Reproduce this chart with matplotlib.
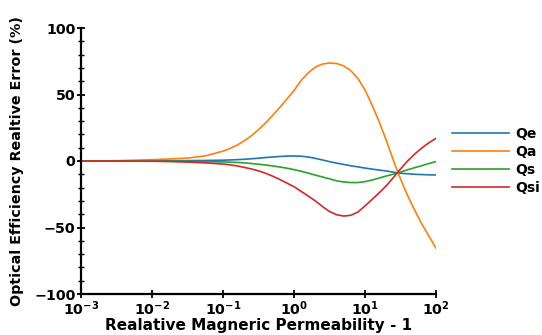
import numpy as np
import matplotlib
matplotlib.use("Agg")
import matplotlib.pyplot as plt
from matplotlib.ticker import FixedLocator, FixedFormatter, MultipleLocator

# Relative permeability minus one, as powers of ten
log_mu = [-3.0, -2.5, -2.0, -1.75, -1.5, -1.25,
          -1.0, -0.9, -0.8, -0.7, -0.6, -0.5, -0.4, -0.3, -0.2, -0.1,
          0.0, 0.1, 0.2, 0.3, 0.4, 0.5, 0.6, 0.7, 0.8, 0.9,
          1.0, 1.1, 1.2, 1.3, 1.4, 1.5, 1.6, 1.7, 1.8, 1.9, 2.0]

# Relative error of each efficiency (%)
qe = [0.0, 0.0, 0.1, 0.2, 0.3, 0.4,
      0.6, 0.8, 1.0, 1.3, 1.7, 2.1, 2.6, 3.0, 3.4, 3.7,
      3.8, 3.6, 3.0, 2.0, 0.8, -0.5, -1.6, -2.6, -3.6, -4.4,
      -5.3, -6.1, -6.8, -7.5, -8.4, -9.2, -9.6, -10.0, -10.2, -10.4, -10.5]
qa = [0.0, 0.2, 1.0, 1.5, 2.2, 3.8,
      7.4, 9.5, 12.0, 15.2, 19.0, 23.5, 28.7, 34.3, 40.3, 46.6,
      53.0, 60.5, 66.3, 70.6, 72.9, 73.7, 73.3, 71.5, 67.9, 62.0,
      53.5, 42.0, 29.5, 15.5, 0.5, -13.5, -26.0, -37.0, -47.3, -56.5, -65.5]
qs = [0.0, 0.0, -0.1, -0.2, -0.3, -0.5,
      -0.7, -0.9, -1.1, -1.4, -1.9, -2.4, -3.0, -3.7, -4.5, -5.4,
      -6.5, -7.7, -9.1, -10.6, -12.0, -13.4, -14.9, -15.8, -16.2, -16.2,
      -15.5, -14.3, -12.8, -11.3, -9.9, -8.3, -6.6, -5.0, -3.5, -1.9, -0.4]
qsi = [0.0, 0.0, -0.2, -0.4, -0.8, -1.4,
       -2.3, -2.9, -3.7, -4.8, -6.0, -7.4, -9.2, -11.4, -13.9, -16.6,
       -19.3, -22.8, -26.3, -30.0, -34.2, -38.0, -40.4, -41.4, -40.8, -38.4,
       -33.8, -28.9, -23.9, -18.6, -12.4, -6.0, 0.0, 5.2, 9.8, 13.7, 17.0]

series_names = ["Qe", "Qa", "Qs", "Qsi"]
series_colors = ["#1f77b4", "#ff7f0e", "#2ca02c", "#d62728"]

x_ticks = [1e-3, 1e-2, 1e-1, 1e0, 1e1, 1e2]
x_tick_labels = [r"$\mathbf{10^{-3}}$", r"$\mathbf{10^{-2}}$", r"$\mathbf{10^{-1}}$",
                 r"$\mathbf{10^{0}}$", r"$\mathbf{10^{1}}$", r"$\mathbf{10^{2}}$"]
y_ticks = [-100, -50, 0, 50, 100]
y_tick_labels = ["\u2212100", "\u221250", "0", "50", "100"]

plt.rcParams["font.family"] = ["DejaVu Sans"]
plt.rcParams["font.weight"] = "bold"
plt.rcParams["mathtext.fontset"] = "dejavusans"

fig = plt.figure(figsize=(5.42, 3.35), dpi=100)
ax = fig.add_axes([81 / 542, 1 - 294 / 335, (436 - 81) / 542, (294 - 28) / 335])

x = 10.0 ** np.array(log_mu)
for vals, name, col in zip([qe, qa, qs, qsi], series_names, series_colors):
    ax.plot(x, vals, color=col, lw=1.2, label=name, solid_joinstyle="round")

ax.set_xscale("log")
ax.set_xlim(1e-3, 1e2)
ax.set_ylim(-100, 100)

ax.xaxis.set_major_locator(FixedLocator(x_ticks))
ax.xaxis.set_major_formatter(FixedFormatter(x_tick_labels))
ax.xaxis.set_minor_locator(FixedLocator([]))
ax.yaxis.set_major_locator(FixedLocator(y_ticks))
ax.yaxis.set_major_formatter(FixedFormatter(y_tick_labels))
ax.yaxis.set_minor_locator(MultipleLocator(10))

for side in ["top", "right"]:
    ax.spines[side].set_visible(False)
for side in ["left", "bottom"]:
    ax.spines[side].set_linewidth(1.6)
    ax.spines[side].set_color("black")

ax.tick_params(axis="both", which="major", direction="inout", length=6, width=1.3,
               labelsize=10.3, pad=1)
ax.tick_params(axis="y", which="minor", direction="inout", length=4, width=1.0)
for lab in ax.get_yticklabels():
    lab.set_fontweight("bold")

ax.set_xlabel("Realative Magneric Permeability - 1", fontsize=11, fontweight="bold",
              labelpad=0)
ax.set_ylabel("Optical Efficiency Realtive Error (%)", fontsize=10.3, fontweight="bold",
              labelpad=7)

leg = fig.legend(loc="center left", bbox_to_anchor=(446 / 542, 1 - 161 / 335),
                 frameon=False, fontsize=10, handlelength=4.1, handletextpad=0.5,
                 labelspacing=0.3, borderaxespad=0)
for t in leg.get_texts():
    t.set_fontweight("bold")

fig.savefig("out.png", dpi=100)
